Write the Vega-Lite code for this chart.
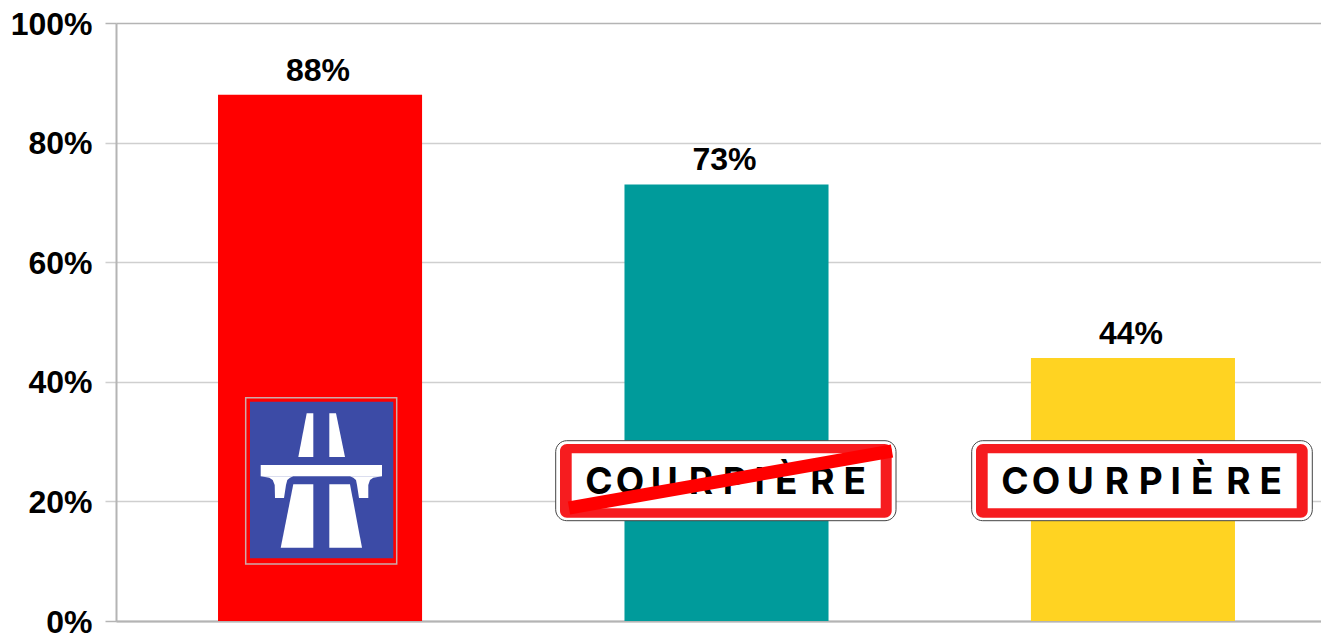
{"$schema":"https://vega.github.io/schema/vega-lite/v6.json","width":1205,"height":598,"autosize":"none","padding":{"left":116,"top":23,"right":0,"bottom":13},"background":"white","config":{"view":{"stroke":null},"font":"Liberation Sans"},
"datasets":{
"bars":[{"cat":"Autoroute","value":0.88,"color":"#ff0000"},{"cat":"Sans Courpière","value":0.73,"color":"#009b9b"},{"cat":"Courpière","value":0.44,"color":"#ffd322"}],
"panels":[
{"part":"outer","sign":"a","x0":439.7,"x1":780,"y0":100.3,"y1":180.3},{"part":"outer","sign":"b","x0":855.7,"x1":1196.3,"y0":100.3,"y1":180.3}],
"reds":[{"x0":444,"x1":775.7,"y0":103.3,"y1":177},{"x0":860,"x1":1191.7,"y0":103.3,"y1":177}],
"inners":[{"x0":455.7,"x1":764.7,"y0":112.7,"y1":167.7},{"x0":871.7,"x1":1180.7,"y0":112.7,"y1":167.7}],
"letters":[{"t":"C","x":483},{"t":"O","x":514},{"t":"U","x":548.3},{"t":"R","x":585},{"t":"P","x":618.7},{"t":"I","x":643.7},{"t":"È","x":670.3},{"t":"R","x":706.3},{"t":"E","x":738.7},{"t":"C","x":899},{"t":"O","x":930},{"t":"U","x":964.3},{"t":"R","x":1001},{"t":"P","x":1034.7},{"t":"I","x":1059.7},{"t":"È","x":1086.3},{"t":"R","x":1122.3},{"t":"E","x":1154.7}],
"road":[
{"p":"tl","y":207.7,"x0":190.7,"x1":197.3},{"p":"tl","y":164,"x0":182.3,"x1":197.3},
{"p":"tr","y":207.7,"x0":213.3,"x1":220},{"p":"tr","y":164,"x0":213.3,"x1":229},
{"p":"bridge","y":156,"x0":144.7,"x1":266},{"p":"bridge","y":144.7,"x0":144.7,"x1":266},
{"p":"al","y":144.7,"x0":144.7,"x1":177.3},{"p":"al","y":143.3,"x0":153.3,"x1":174},{"p":"al","y":141,"x0":156.7,"x1":171.3},{"p":"al","y":136,"x0":158.7,"x1":170},{"p":"al","y":123,"x0":159,"x1":168},
{"p":"ar","y":144.7,"x0":234,"x1":266},{"p":"ar","y":143.3,"x0":237.3,"x1":257.3},{"p":"ar","y":141,"x0":240,"x1":254},{"p":"ar","y":136,"x0":241,"x1":252.3},{"p":"ar","y":123,"x0":243,"x1":252.3},
{"p":"bl","y":136.7,"x0":177.3,"x1":197.3},{"p":"bl","y":73.3,"x0":164.7,"x1":197.3},
{"p":"br","y":136.7,"x0":213.3,"x1":234},{"p":"br","y":73.3,"x0":213.3,"x1":246}]
},
"layer":[
{"data":{"name":"bars"},
"encoding":{"x":{"field":"cat","type":"nominal","sort":null,"scale":{"range":[0,1221],"paddingInner":0.498,"paddingOuter":0.251},"axis":{"title":null,"labels":false,"ticks":false,"domainColor":"#b4b4b4","domainWidth":2,"grid":false}},
"y":{"field":"value","type":"quantitative","scale":{"domain":[0,1]},"axis":{"title":null,"format":".0%","values":[0,0.2,0.4,0.6,0.8,1],"labelFont":"Liberation Sans","labelFontWeight":"bold","labelFontSize":32,"labelColor":"#000000","labelPadding":13,"labelOffset":1,"tickSize":11,"tickWidth":1.5,"gridWidth":1.5,"tickColor":{"condition":{"test":"datum.value==1||datum.value==0","value":"#b4b4b4"},"value":"#cfcfcf"},"gridColor":{"condition":{"test":"datum.value==1||datum.value==0","value":"#b4b4b4"},"value":"#cfcfcf"},"domainColor":"#b4b4b4","domainWidth":2,"labelBaseline":"middle","labelOverlap":false,"labelFlush":false}}},
"layer":[
{"mark":{"type":"bar"},"encoding":{"color":{"field":"color","type":"nominal","scale":null}}},
{"mark":{"type":"text","font":"Liberation Sans","fontWeight":"bold","fontSize":32,"baseline":"alphabetic","align":"center","dy":-14,"dx":-2,"color":"#000000"},"encoding":{"text":{"field":"value","type":"quantitative","format":".0%"}}}
]},
{"layer":[
{"data":{"values":[{"x0":129.7,"x1":280.7,"y0":57,"y1":223.3}]},"mark":{"type":"rect","fillOpacity":0,"stroke":"#cdaaaa","strokeWidth":1.5},"encoding":{"x":{"field":"x0","type":"quantitative","scale":{"domain":[0,1205],"range":[0,1205],"nice":false,"zero":false},"axis":null},"x2":{"field":"x1"},"y":{"field":"y0","type":"quantitative","scale":{"domain":[0,598],"range":[598,0],"nice":false,"zero":false},"axis":null},"y2":{"field":"y1"}}},
{"data":{"values":[{"x0":134,"x1":277.3,"y0":62.7,"y1":219.3}]},"mark":{"type":"rect","fill":"#3c4ba6"},"encoding":{"x":{"field":"x0","type":"quantitative","axis":null},"x2":{"field":"x1"},"y":{"field":"y0","type":"quantitative","axis":null},"y2":{"field":"y1"}}},
{"data":{"name":"road"},"mark":{"type":"area","orient":"horizontal","fill":"#ffffff","interpolate":"linear"},"encoding":{"y":{"field":"y","type":"quantitative","axis":null},"x":{"field":"x0","type":"quantitative","axis":null},"x2":{"field":"x1"},"detail":{"field":"p"}}},
{"data":{"name":"panels"},"mark":{"type":"rect","fill":"#ffffff","stroke":"#444444","strokeWidth":1,"cornerRadius":11},"encoding":{"x":{"field":"x0","type":"quantitative","axis":null},"x2":{"field":"x1"},"y":{"field":"y0","type":"quantitative","axis":null},"y2":{"field":"y1"}}},
{"data":{"name":"reds"},"mark":{"type":"rect","fill":"#f61c1f","cornerRadius":7},"encoding":{"x":{"field":"x0","type":"quantitative","axis":null},"x2":{"field":"x1"},"y":{"field":"y0","type":"quantitative","axis":null},"y2":{"field":"y1"}}},
{"data":{"name":"inners"},"mark":{"type":"rect","fill":"#ffffff"},"encoding":{"x":{"field":"x0","type":"quantitative","axis":null},"x2":{"field":"x1"},"y":{"field":"y0","type":"quantitative","axis":null},"y2":{"field":"y1"}}},
{"data":{"name":"letters"},"mark":{"type":"text","font":"Inter","fontWeight":"bold","fontSize":37,"baseline":"alphabetic","align":"center","color":"#000000"},"encoding":{"x":{"field":"x","type":"quantitative","axis":null},"y":{"datum":127,"type":"quantitative","axis":null},"text":{"field":"t","type":"nominal"}}},
{"data":{"values":[{"x0":453,"x1":776,"y0":113,"y1":170}]},"mark":{"type":"rule","color":"#ff0000","strokeWidth":13},"encoding":{"x":{"field":"x0","type":"quantitative","axis":null},"x2":{"field":"x1"},"y":{"field":"y0","type":"quantitative","axis":null},"y2":{"field":"y1"}}}
]}
],
"resolve":{"scale":{"x":"independent","y":"independent"},"axis":{"x":"independent","y":"independent"}}}
